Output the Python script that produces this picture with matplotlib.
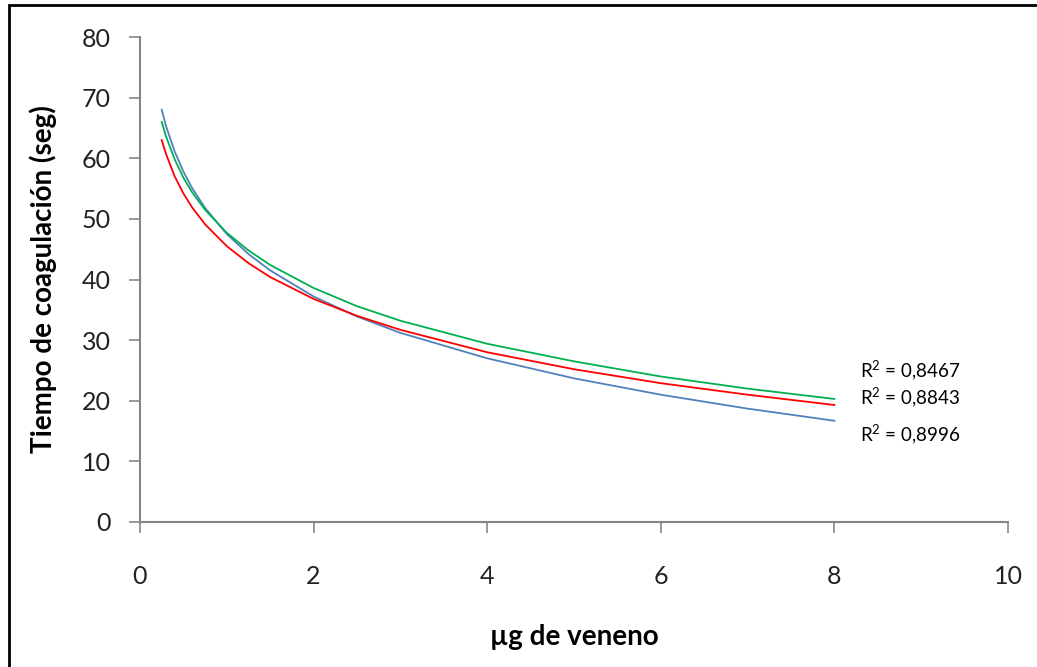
import matplotlib
matplotlib.use("Agg")
import matplotlib.pyplot as plt
from matplotlib.patches import Rectangle

# Curvas de tendencia (tiempo de coagulación vs dosis de veneno)
dosis = [0.25, 0.3, 0.4, 0.5, 0.6, 0.75, 1, 1.25, 1.5, 2, 2.5, 3, 4, 5, 6, 7, 8]
tiempo_azul = [68.0, 65.3, 61.1, 57.8, 55.1, 51.8, 47.5, 44.2, 41.5, 37.2, 33.9, 31.2, 27.0, 23.7, 21.0, 18.7, 16.7]
tiempo_verde = [66.0, 63.6, 59.8, 56.8, 54.4, 51.5, 47.7, 44.8, 42.4, 38.6, 35.6, 33.2, 29.4, 26.5, 24.0, 22.0, 20.3]
tiempo_rojo = [63.0, 60.7, 57.0, 54.2, 51.9, 49.1, 45.5, 42.7, 40.4, 36.8, 34.0, 31.7, 28.0, 25.2, 22.9, 21.0, 19.3]

r2_textos = ["R$^2$ = 0,8467", "R$^2$ = 0,8843", "R$^2$ = 0,8996"]
r2_y = [25.1, 20.5, 14.4]

plt.rcParams['font.family'] = ['Lato', 'DejaVu Sans']
plt.rcParams['mathtext.default'] = 'regular'

fig = plt.figure(figsize=(10.37, 6.67), dpi=100)
ax = fig.add_axes([0.135, 0.2174, 0.837, 0.7271])

ax.plot(dosis, tiempo_azul, color='#4F81BD', lw=1.3)
ax.plot(dosis, tiempo_verde, color='#00B050', lw=1.3)
ax.plot(dosis, tiempo_rojo, color='#FF0000', lw=1.3)

for txt, yy in zip(r2_textos, r2_y):
    ax.text(8.3, yy, txt, fontsize=13.5, va='center', ha='left', color='black')

ax.set_xlim(0, 10)
ax.set_ylim(0, 80)
ax.set_xticks([0, 2, 4, 6, 8, 10])
ax.set_yticks(range(0, 81, 10))

gris = '#868686'
for s in ['top', 'right']:
    ax.spines[s].set_visible(False)
for s in ['left', 'bottom']:
    ax.spines[s].set_color(gris)
    ax.spines[s].set_linewidth(1.5)
ax.tick_params(axis='both', direction='out', length=8, width=1.2, color=gris,
               labelsize=18, labelcolor='#222222')
ax.tick_params(axis='y', pad=13)
ax.tick_params(axis='x', pad=23)

ax.set_xlabel('µg de veneno', fontsize=20, fontweight='bold', labelpad=26)
ax.set_ylabel('Tiempo de coagulación (seg)', fontsize=20, fontweight='bold', labelpad=18)

# Marco exterior del gráfico
fig.patches.append(Rectangle((9 / 1037, -0.05), 1.2, 1 - 5 / 667 + 0.05,
                             transform=fig.transFigure, fill=False,
                             edgecolor='black', lw=2))

fig.savefig('out.png', dpi=100)
